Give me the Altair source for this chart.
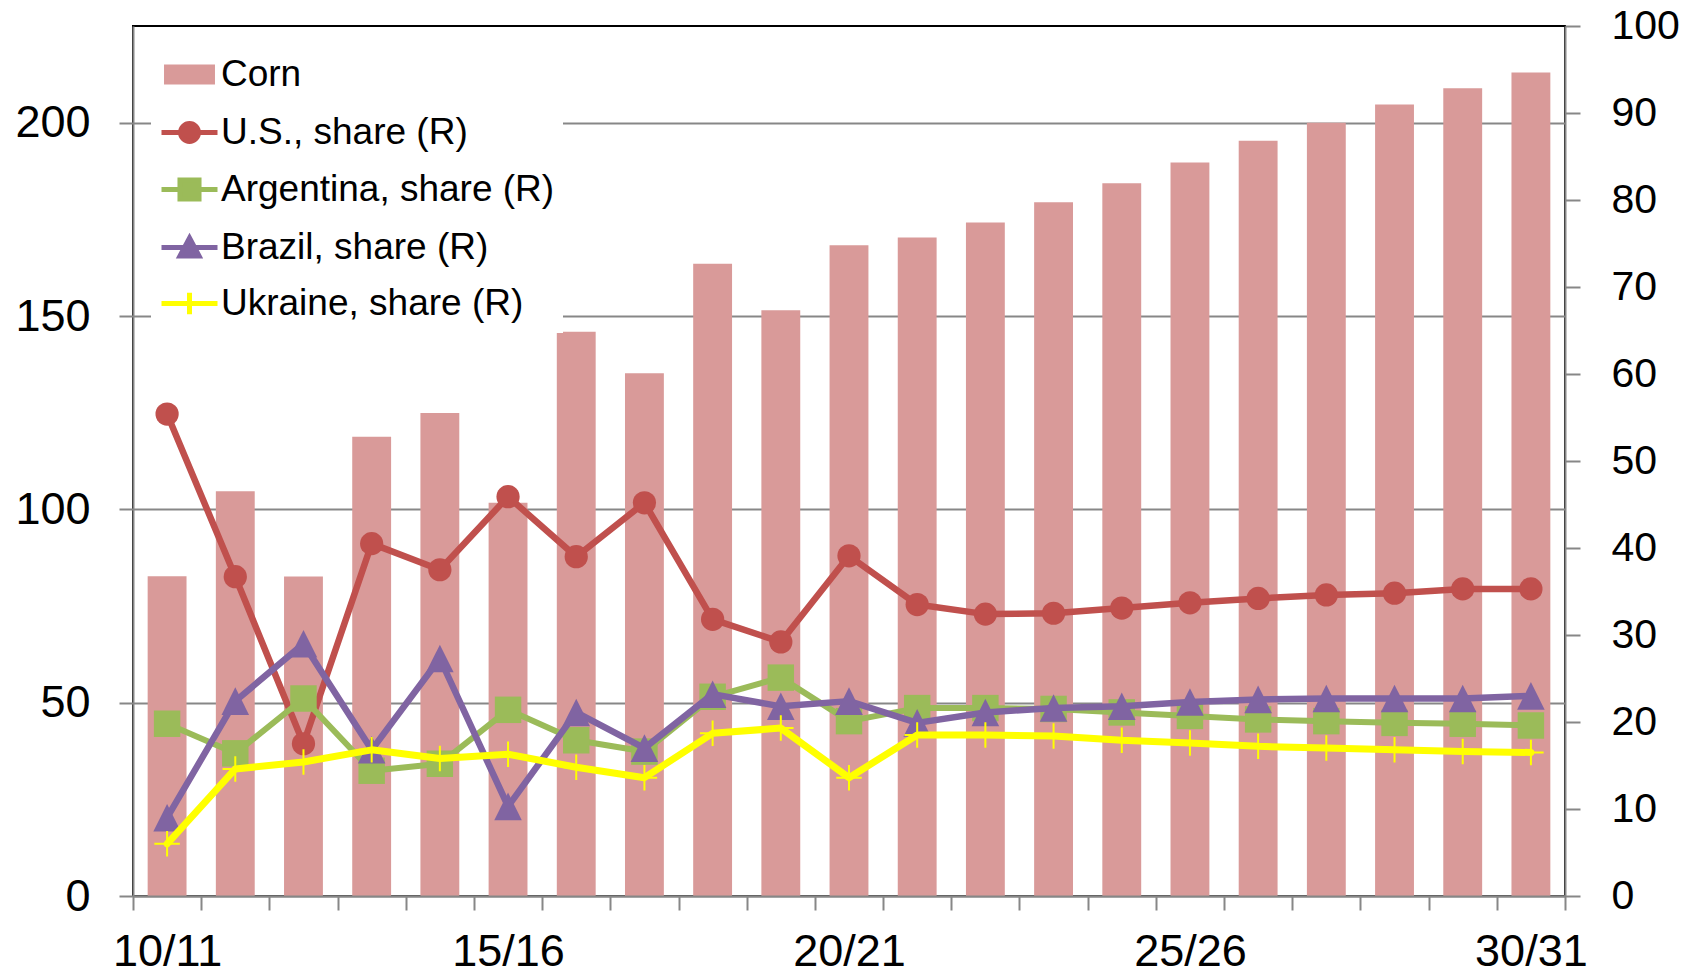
import altair as alt
import pandas as pd

# ---------------- data ----------------
categories = ["10/11", "11/12", "12/13", "13/14", "14/15", "15/16", "16/17",
              "17/18", "18/19", "19/20", "20/21", "21/22", "22/23", "23/24",
              "24/25", "25/26", "26/27", "27/28", "28/29", "29/30", "30/31"]
shown_labels = ["10/11", "15/16", "20/21", "25/26", "30/31"]

corn = [82.7, 104.7, 82.6, 118.8, 124.9, 101.7, 145.9, 135.2, 163.5, 151.5,
        168.3, 170.3, 174.2, 179.4, 184.3, 189.7, 195.3, 200.0, 204.7, 208.9, 213.0]
us_share = [55.4, 36.7, 17.5, 40.5, 37.5, 45.9, 39.0, 45.2, 31.8, 29.2,
            39.1, 33.5, 32.4, 32.5, 33.1, 33.7, 34.2, 34.6, 34.8, 35.3, 35.3]
argentina_share = [19.8, 16.4, 22.7, 14.4, 15.2, 21.4, 17.9, 16.6, 22.9, 25.1,
                   20.1, 21.6, 21.6, 21.5, 21.1, 20.7, 20.3, 20.1, 19.9, 19.8, 19.6]
brazil_share = [9.0, 22.4, 29.0, 16.8, 27.3, 10.3, 21.1, 17.0, 23.2, 21.8,
                22.4, 19.9, 21.1, 21.6, 21.8, 22.3, 22.6, 22.7, 22.7, 22.7, 23.0]
ukraine_share = [6.0, 14.6, 15.4, 16.8, 15.8, 16.3, 14.8, 13.6, 18.7, 19.3,
                 13.6, 18.5, 18.5, 18.4, 17.9, 17.6, 17.2, 17.0, 16.8, 16.6, 16.5]

series_names = ["Corn", "U.S., share (R)", "Argentina, share (R)",
                "Brazil, share (R)", "Ukraine, share (R)"]

# ---------------- styles ----------------
W, H = 1432, 870
FONT = "Liberation Sans"
GRAY = "#878787"
BAR_FILL = "#d99a99"
C_US, C_AR, C_BR, C_UA = "#C0504D", "#9BBB59", "#8064A2", "#FFFF00"

bars_df = pd.DataFrame({"cat": categories, "value": corn})
share_lists = [us_share, argentina_share, brazil_share, ukraine_share]
rows = []
for name, vals in zip(series_names[1:], share_lists):
    for c, v in zip(categories, vals):
        rows.append({"cat": c, "series": name, "share": v})
lines_df = pd.DataFrame(rows)

x_scale = alt.Scale(type="band", domain=categories, paddingInner=0, paddingOuter=0)

label_list = "[" + ",".join("'%s'" % s for s in shown_labels) + "]"
x_axis = alt.Axis(
    title=None, orient="bottom", tickBand="extent", tickSize=14, tickWidth=2,
    tickColor=GRAY, domainColor=GRAY, domainWidth=2, labelAngle=0,
    labelFont=FONT, labelFontSize=45, labelColor="black", labelPadding=19,
    labelOverlap=False, labelBound=False, labelFlush=False,
    labelExpr="indexof(%s, datum.value) >= 0 ? datum.value : ''" % label_list,
    grid=False, zindex=1,
)
x_enc = alt.X("cat:N", sort=categories, scale=x_scale, axis=x_axis)

bars = alt.Chart(bars_df).mark_bar(fill=BAR_FILL, width=alt.RelativeBandSize(0.57)).encode(
    x=x_enc,
    y=alt.Y("value:Q", scale=alt.Scale(domain=[0, 225], nice=False, zero=True),
            axis=alt.Axis(title=None, orient="left", values=[0, 50, 100, 150, 200],
                          grid=True, gridColor=GRAY, gridWidth=2,
                          domainColor=GRAY, domainWidth=2, tickColor=GRAY,
                          tickWidth=2, tickSize=14, labelFont=FONT,
                          labelFontSize=45, labelColor="black", labelPadding=29,
                          zindex=0)),
)

right_axis = alt.Axis(title=None, orient="right", values=list(range(0, 101, 10)),
                      grid=False, domainColor=GRAY, domainWidth=2, tickColor=GRAY,
                      tickWidth=2, tickSize=15, labelFont=FONT, labelFontSize=41,
                      labelColor="black", labelPadding=31, zindex=1)
y_right = alt.Y("share:Q", scale=alt.Scale(domain=[0, 100], nice=False), axis=right_axis)

styles = {
    "U.S., share (R)": dict(color=C_US, width=6.5, shape="circle", size=540, filled=True),
    "Argentina, share (R)": dict(color=C_AR, width=6, shape="square", size=700, filled=True),
    "Brazil, share (R)": dict(color=C_BR, width=6.5, shape="M0,-1L1,1L-1,1Z", size=760, filled=True),
    "Ukraine, share (R)": dict(color=C_UA, width=7, shape="M-1,0H1M0,-1V1", size=650, filled=False),
}

right_layers = []
for name in series_names[1:]:
    st = styles[name]
    base = alt.Chart(lines_df).transform_filter(alt.datum.series == name)
    line = base.mark_line(color=st["color"], strokeWidth=st["width"],
                          strokeJoin="round", strokeCap="round").encode(x=x_enc, y=y_right)
    if st["filled"]:
        pts = base.mark_point(shape=st["shape"], size=st["size"], filled=True,
                              fill=st["color"], strokeWidth=0, opacity=1)
    else:
        pts = base.mark_point(shape=st["shape"], size=st["size"], filled=False,
                              stroke=st["color"], strokeWidth=2, opacity=1)
    pts = pts.encode(x=x_enc, y=y_right)
    right_layers += [line, pts]

# legend-only layer (no rows drawn); legend built from scales
legend_paths = [
    "M-0.91,-0.36H0.91V0.36H-0.91Z",
    "M-1,0H1M0.32,0A0.32,0.32,0,1,1,-0.32,0A0.32,0.32,0,1,1,0.32,0Z",
    "M-1,0H1M-0.34,-0.34H0.34V0.34H-0.34Z",
    "M-1,0H1M0,-0.34L0.34,0.3L-0.34,0.3Z",
    "M-1,0H1M0,-0.38V0.38",
]
fill_range = [BAR_FILL, C_US, C_AR, C_BR, C_UA]
stroke_range = ["transparent", C_US, C_AR, C_BR, C_UA]


def mk_legend():
    return alt.Legend(title=None, orient="none", legendX=18, legendY=10,
                      fillColor="white", padding=8, labelFont=FONT,
                      labelFontSize=37, labelColor="black", labelLimit=0,
                      labelOffset=1, symbolSize=3136, symbolStrokeWidth=5,
                      rowPadding=7)


legend_layer = alt.Chart(lines_df).transform_filter("false").mark_point(
    filled=True, opacity=1).encode(
    fill=alt.Fill("series:N", scale=alt.Scale(domain=series_names, range=fill_range), legend=mk_legend()),
    stroke=alt.Stroke("series:N", scale=alt.Scale(domain=series_names, range=stroke_range), legend=mk_legend()),
    shape=alt.Shape("series:N", scale=alt.Scale(domain=series_names, range=legend_paths), legend=mk_legend()),
)

right = alt.layer(*right_layers)

chart = alt.layer(bars, right, legend_layer).resolve_scale(y="independent").properties(
    width=W, height=H,
    background="white",
    autosize=alt.AutoSizeParams(type="none"),
    padding={"left": 125, "top": 18, "right": 127, "bottom": 80},
).configure_view(stroke="black", strokeWidth=2)

chart.save("out.html", embed_options={"renderer": "svg", "actions": False})
